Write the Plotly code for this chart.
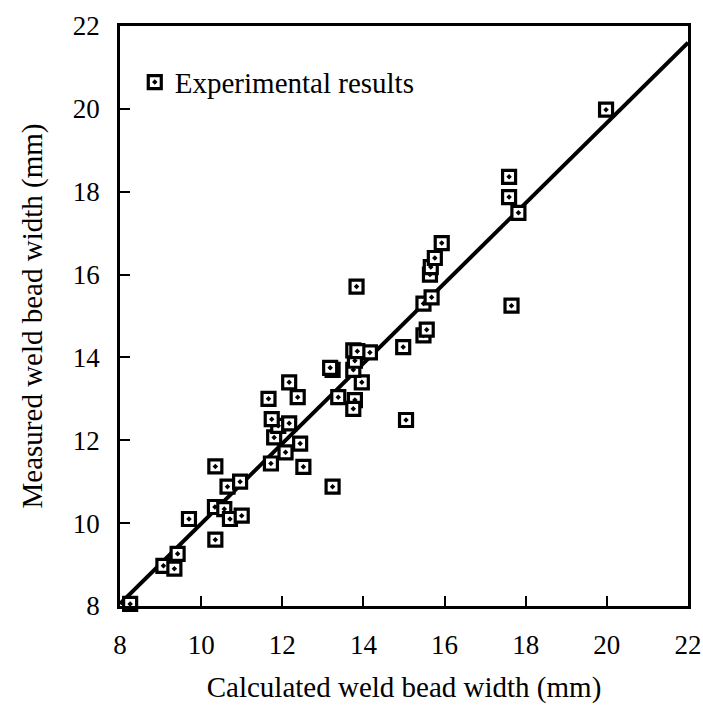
import plotly.graph_objects as go

calc_width = [8.25, 9.07, 9.34, 9.42, 9.70, 10.35, 10.35, 10.34, 10.57, 10.71,
              11.00, 10.65, 10.96, 11.72, 12.08, 12.44, 12.52, 13.24, 11.80, 11.90,
              11.74, 12.17, 11.66, 12.17, 12.38, 13.38, 13.79, 13.75, 13.96, 13.24,
              13.18, 13.75, 13.79, 13.75, 14.16, 13.85, 13.83, 14.98, 15.05, 15.48,
              15.56, 15.48, 15.68, 15.64, 15.66, 15.76, 15.93, 17.59, 17.59, 17.82,
              17.65, 19.98]
meas_width = [8.05, 8.97, 8.90, 9.26, 10.10, 9.60, 11.37, 10.39, 10.34, 10.10,
              10.18, 10.88, 11.00, 11.44, 11.71, 11.92, 11.36, 10.88, 12.07, 12.35,
              12.51, 12.41, 13.00, 13.40, 13.04, 13.04, 12.97, 12.76, 13.40, 13.70,
              13.75, 13.70, 13.92, 14.17, 14.12, 14.15, 15.71, 14.25, 12.49, 14.53,
              14.67, 15.30, 15.45, 16.00, 16.18, 16.40, 16.76, 17.87, 18.36, 17.49,
              15.25, 19.98]

fit_x = [8.0, 22.0]
fit_y = [8.05, 21.6]

ticks = [8, 10, 12, 14, 16, 18, 20, 22]

FONT = "Liberation Serif"

fig = go.Figure()
fig.add_trace(go.Scatter(x=fit_x, y=fit_y, mode="lines",
                         line=dict(color="black", width=4),
                         showlegend=False, hoverinfo="skip", cliponaxis=False))
fig.add_trace(go.Scatter(x=calc_width, y=meas_width, mode="markers",
                         name="Experimental results",
                         marker=dict(symbol="square-dot", size=13, color="white",
                                     line=dict(color="black", width=3.2)),
                         cliponaxis=False))

axis_common = dict(range=[8, 22], tickvals=ticks, ticktext=[str(t) for t in ticks],
                   showline=True, linecolor="black", linewidth=2.5, mirror=True,
                   ticks="inside", ticklen=10, tickwidth=2, tickcolor="black",
                   showgrid=False, zeroline=False, ticklabeloverflow="allow",
                   automargin=False,
                   tickfont=dict(family=FONT, size=27, color="black"))

fig.update_layout(
    width=703, height=710,
    margin=dict(l=120, r=15, t=26, b=104),
    paper_bgcolor="white", plot_bgcolor="white",
    font=dict(family=FONT, color="black"),
    showlegend=True,
    legend=dict(x=0.026, y=0.903, xanchor="left", yanchor="middle",
                bgcolor="rgba(0,0,0,0)", font=dict(family=FONT, size=29),
                itemwidth=30),
    xaxis=dict(**axis_common,
               title=dict(text="Calculated weld bead width (mm)", standoff=18,
                          font=dict(family=FONT, size=29))),
    yaxis=dict(**axis_common,
               title=dict(text="Measured weld bead width (mm)", standoff=22,
                          font=dict(family=FONT, size=29))),
)
fig.update_xaxes(ticklabelstandoff=13)
fig.update_yaxes(ticklabelstandoff=12)

fig.write_html(
    "out.html",
    config={"displayModeBar": False},
    post_script="document.body.style.margin='0';"
                "document.documentElement.style.overflow='hidden';"
                "document.body.style.overflow='hidden';",
)
